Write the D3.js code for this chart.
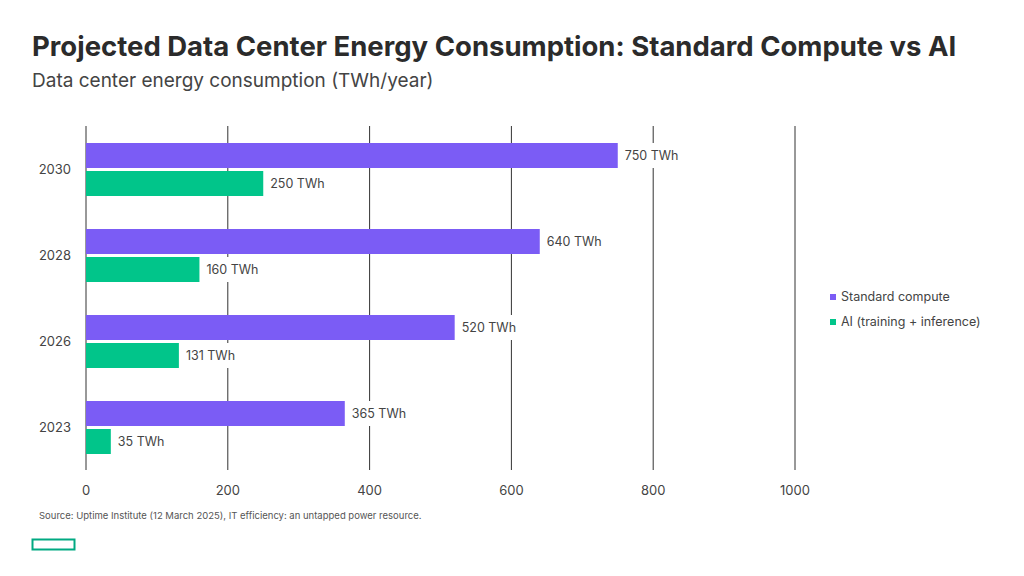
<!DOCTYPE html>
<html><head><meta charset="utf-8">
<script src="https://cdn.jsdelivr.net/npm/d3@7"></script>
<style>body{margin:0;background:#fff;font-family:Inter,"Noto Sans",sans-serif}</style>
</head><body><svg width="1024" height="576"></svg>
<script>
// data
var years = ['2030', '2028', '2026', '2023'];
var standard = [750, 640, 520, 365];
var ai = [250, 160, 131, 35];
var xTicks = [0, 200, 400, 600, 800, 1000];
var seriesNames = ['Standard compute', 'AI (training + inference)'];
var colors = ['#7b5cf5', '#01c58a'];

var svg = d3.select('svg');

var x = d3.scaleLinear().domain([0, 1000]).range([86, 795]);
var y = d3.scaleBand().domain(years).range([126, 470]);
var barH = 25;

function barTop(i, s) {
    return y(years[i]) + y.bandwidth() / 2 - barH - 1 + s * (barH + 3);
}

// label boxes, used to break the gridlines behind the value labels
var boxes = [];
[standard, ai].forEach(function(vals, s) {
    vals.forEach(function(d, i) {
        boxes.push({x0: x(d) + 3, x1: x(d) + 3 + (d + ' TWh').length * 7.5 + 8,
                    y0: barTop(i, s), y1: barTop(i, s) + barH});
    });
});

// gridlines, split into segments around labels
var grid = svg.append('g');
xTicks.forEach(function(t) {
    var px = x(t), y0 = 126;
    var hits = boxes.filter(b => px > b.x0 && px < b.x1).sort((a, b) => a.y0 - b.y0);
    hits.forEach(function(b) {
        grid.append('line').attr('x1', px).attr('x2', px).attr('y1', y0).attr('y2', b.y0)
            .attr('stroke', '#333');
        y0 = b.y1;
    });
    grid.append('line').attr('x1', px).attr('x2', px).attr('y1', y0).attr('y2', 470)
        .attr('stroke', '#333');
});

svg.append('g').selectAll('text').data(xTicks).enter().append('text')
    .attr('x', d => x(d)).attr('y', 495)
    .attr('text-anchor', 'middle').attr('font-size', 13).attr('fill', '#444')
    .text(d => d);

// year labels
svg.append('g').selectAll('text').data(years).enter().append('text')
    .attr('x', 71).attr('y', d => y(d) + y.bandwidth() / 2 + 5)
    .attr('text-anchor', 'end').attr('font-size', 13).attr('fill', '#444')
    .text(d => d);

[standard, ai].forEach(function(vals, s) {
    var g = svg.append('g');
    vals.forEach(function(d, i) {
        g.append('rect')
            .attr('x', x(0)).attr('y', barTop(i, s))
            .attr('width', x(d) - x(0)).attr('height', barH)
            .attr('fill', colors[s]);
        g.append('text')
            .attr('x', x(d) + 7).attr('y', barTop(i, s) + barH / 2 + 4.5)
            .attr('font-size', 12.5).attr('fill', '#444')
            .text(d + ' TWh');
    });
});

// legend
seriesNames.forEach(function(n, i) {
    svg.append('rect').attr('x', 830).attr('y', 294 + i * 25).attr('width', 6).attr('height', 6).attr('fill', colors[i]);
    svg.append('text').attr('x', 841).attr('y', 301 + i * 25).attr('font-size', 12.5).attr('fill', '#444').text(n);
});

svg.append('text').attr('x', 32).attr('y', 56).attr('font-size', 27.5).attr('font-weight', 700)
    .attr('fill', '#2b2b2b').text('Projected Data Center Energy Consumption: Standard Compute vs AI');
svg.append('text').attr('x', 32).attr('y', 87).attr('font-size', 19).attr('fill', '#444')
    .text('Data center energy consumption (TWh/year)');
svg.append('text').attr('x', 39).attr('y', 519).attr('font-size', 9.5).attr('fill', '#555')
    .text('Source: Uptime Institute (12 March 2025), IT efficiency: an untapped power resource.');
svg.append('rect').attr('x', 32.5).attr('y', 539.5).attr('width', 42).attr('height', 10)
    .attr('fill', 'none').attr('stroke', '#01a982').attr('stroke-width', 2);
</script></body></html>
